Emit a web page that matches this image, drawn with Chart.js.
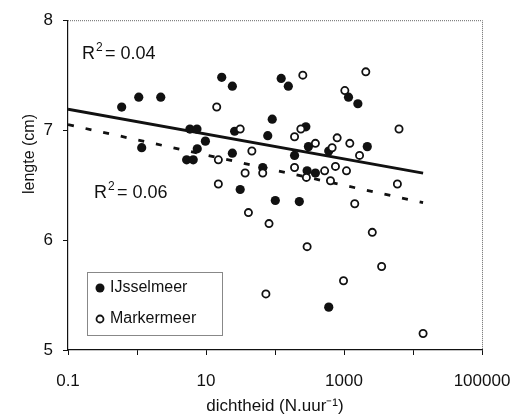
<!DOCTYPE html>
<html>
<head>
<meta charset="utf-8">
<script src="https://cdn.jsdelivr.net/npm/chart.js@4"></script>
<style>
  html, body { margin: 0; padding: 0; background: #fff; }
  #wrap { width: 528px; height: 420px; }
</style>
</head>
<body>
<div id="wrap"><canvas id="plots" width="528" height="420"></canvas></div>
<script>
// data
var ijsselX = [0.60, 1.06, 2.21, 1.17, 5.85, 7.40, 9.8, 7.47, 5.24, 6.53,
               16.9, 24.1, 26.0, 24.1, 91.2, 78.5, 123, 156, 280, 305,
               601, 192, 66.4, 292, 385, 1162, 1588, 2175, 31.3, 101, 225, 601];
var ijsselY = [7.21, 7.30, 7.30, 6.84, 7.01, 7.01, 6.90, 6.83, 6.73, 6.73,
               7.48, 7.40, 6.99, 6.79, 7.10, 6.95, 7.47, 7.40, 7.03, 6.85,
               6.81, 6.77, 6.66, 6.63, 6.61, 7.30, 7.24, 6.85, 6.46, 6.36, 6.35, 5.39];
var markerX = [14.3, 31.3, 15.1, 46.2, 36.9, 66.4, 253, 237, 192, 385,
               192, 524, 2070, 1028, 6270, 796, 1214, 673, 1680, 752,
               1087, 285, 637, 5940, 15.1, 41.2, 81.9, 292, 1431, 2570,
               3510, 984, 73.8, 14000];
var markerY = [7.21, 7.01, 6.73, 6.81, 6.61, 6.61, 7.50, 7.01, 6.94, 6.88,
               6.66, 6.63, 7.53, 7.36, 7.01, 6.93, 6.88, 6.84, 6.77, 6.67,
               6.63, 6.57, 6.54, 6.51, 6.51, 6.25, 6.15, 5.94, 6.33, 6.07,
               5.76, 5.63, 5.51, 5.15];
// trend lines (log fits)
var trendX = [0.1, 14000];
var ijsselTrend = [7.19, 6.61];
var markerTrend = [7.05, 6.34];
var xTicks = [0.1, 1, 10, 100, 1000, 10000, 100000];
var xLabels = [0.1, 10, 1000, 100000];
var yTicks = [5, 6, 7, 8];
var seriesNames = ["IJsselmeer", "Markermeer"];
var r2Labels = ["0.04", "0.06"];
var yTitle = "lengte (cm)";

function pts(xs, ys) {
    return xs.map(function (x, i) { return { x: x, y: ys[i] }; });
}

var FONT = "'Liberation Sans', Arial, sans-serif";
Chart.defaults.font.family = FONT;
Chart.defaults.color = "#111";

// frame, y title, R2 labels and the legend box
var extras = {
    id: "extras",
    beforeDatasetsDraw: function (chart) {
        var a = chart.chartArea, ctx = chart.ctx;
        ctx.save();
        ctx.strokeStyle = "#666";
        ctx.lineWidth = 1;
        ctx.setLineDash([1, 1]);
        ctx.beginPath();
        ctx.moveTo(a.left, a.top + 0.5);
        ctx.lineTo(a.right + 0.5, a.top + 0.5);
        ctx.lineTo(a.right + 0.5, a.bottom);
        ctx.stroke();
        ctx.restore();
    },
    afterDraw: function (chart) {
        var ctx = chart.ctx;
        ctx.save();
        ctx.fillStyle = "#111";

        // y axis title (sits above the middle in the original)
        ctx.save();
        ctx.translate(30, 154);
        ctx.rotate(-Math.PI / 2);
        ctx.font = "16px " + FONT;
        ctx.textAlign = "center";
        ctx.textBaseline = "middle";
        ctx.fillText(yTitle, 0, 0);
        ctx.restore();

        ctx.textBaseline = "middle";
        ctx.textAlign = "left";
        // R2 labels
        function r2(x, y, val) {
            ctx.font = "18px " + FONT;
            ctx.fillText("R", x, y);
            var w = ctx.measureText("R").width;
            ctx.font = "12px " + FONT;
            ctx.fillText("2", x + w + 1, y - 6);
            ctx.font = "18px " + FONT;
            ctx.fillText("= " + val, x + w + 10, y);
        }
        r2(82, 54, r2Labels[0]);
        r2(94, 193, r2Labels[1]);

        // legend
        ctx.fillStyle = "#fff";
        ctx.fillRect(87, 272, 135, 63);
        ctx.strokeStyle = "#888";
        ctx.lineWidth = 1;
        ctx.strokeRect(87.5, 272.5, 135, 63);
        ctx.font = "16px " + FONT;
        ctx.fillStyle = "#111";
        ctx.beginPath();
        ctx.arc(100, 288, 4.5, 0, Math.PI * 2);
        ctx.fill();
        ctx.fillText(seriesNames[0], 110, 288);
        ctx.beginPath();
        ctx.arc(100, 319, 3.5, 0, Math.PI * 2);
        ctx.lineWidth = 1.8;
        ctx.strokeStyle = "#111";
        ctx.stroke();
        ctx.fillText(seriesNames[1], 110, 319);
        ctx.restore();
    }
};

new Chart(document.getElementById("plots"), {
    type: "scatter",
    data: {
        datasets: [{
            label: seriesNames[1],
            data: pts(markerX, markerY),
            pointRadius: 3.6,
            pointBorderWidth: 1.8,
            pointBackgroundColor: "#fff",
            pointBorderColor: "#111",
        }, {
            label: seriesNames[0],
            data: pts(ijsselX, ijsselY),
            pointRadius: 4.6,
            pointBorderWidth: 0,
            pointBackgroundColor: "#111",
            pointBorderColor: "#111",
        }, {
            label: "trend IJsselmeer",
            data: pts(trendX, ijsselTrend),
            showLine: true,
            borderColor: "#111",
            borderWidth: 2.8,
            pointRadius: 0,
        }, {
            label: "trend Markermeer",
            data: pts(trendX, markerTrend),
            showLine: true,
            borderColor: "#111",
            borderWidth: 2.8,
            borderDash: [6, 12],
            pointRadius: 0,
        }],
    },
    options: {
        responsive: false,
        animation: false,
        layout: {
            padding: { top: 18, right: 46, left: 0, bottom: 0 },
        },
        plugins: {
            legend: { display: false },
            tooltip: { enabled: false },
        },
        scales: {
            x: {
                type: "logarithmic",
                min: 0.1,
                max: 100000,
                afterBuildTicks: function (scale) {
                    scale.ticks = xTicks.map(function (v) { return { value: v }; });
                },
                afterFit: function (scale) { scale.height = 70; },
                ticks: {
                    autoSkip: false,
                    maxRotation: 0,
                    padding: 16,
                    font: { size: 17 },
                    callback: function (v) {
                        return xLabels.indexOf(v) >= 0 ? String(v) : "";
                    },
                },
                grid: {
                    drawOnChartArea: false,
                    drawTicks: true,
                    tickLength: 5,
                    color: "#111",
                },
                border: { display: true, color: "#111", width: 1.2 },
                title: {
                    display: true,
                    text: "dichtheid (N.uur\u207B\u00B9)",
                    font: { size: 17 },
                    padding: { top: 0, bottom: 3 },
                },
            },
            y: {
                min: 5,
                max: 8,
                afterBuildTicks: function (scale) {
                    scale.ticks = yTicks.map(function (v) { return { value: v }; });
                },
                afterFit: function (scale) { scale.width = 68; },
                ticks: {
                    padding: 10,
                    font: { size: 17 },
                },
                grid: {
                    drawOnChartArea: false,
                    drawTicks: true,
                    tickLength: 5,
                    color: "#111",
                },
                border: { display: true, color: "#111", width: 1.2 },
                title: { display: false },
            },
        },
    },
    plugins: [extras],
});
</script>
</body>
</html>
